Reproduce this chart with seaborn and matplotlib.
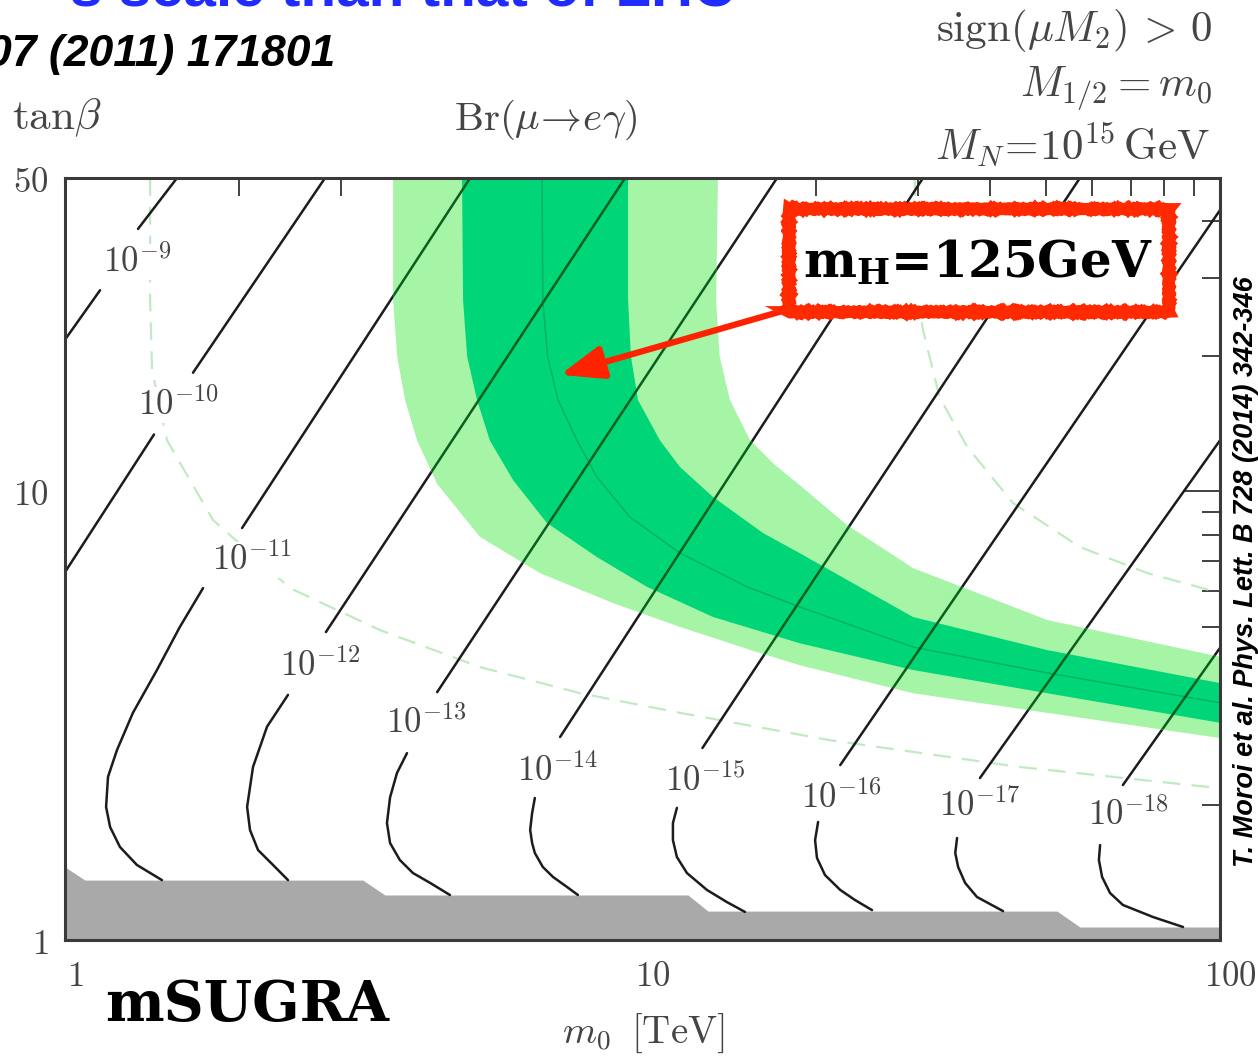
import matplotlib
matplotlib.use("Agg")
import matplotlib.pyplot as plt
import matplotlib.transforms as mtransforms
from matplotlib.patches import Rectangle
from matplotlib.ticker import FixedLocator, NullFormatter
import pandas as pd
import seaborn as sns

sns.set_theme(style="white")
plt.rcParams["font.family"] = ["DejaVu Sans"]
plt.rcParams["mathtext.fontset"] = "cm"

# ---------------------------------------------------------------------------
# Br(mu -> e gamma) contours in the (m0 [TeV], tan(beta)) plane
# ---------------------------------------------------------------------------
br_exponents = [-9, -10, -11, -12, -13, -14, -15, -16, -17, -18]
label_m0 = [1.332, 1.569, 2.108, 2.764, 4.22, 7.11, 12.83, 22.07, 38.4, 69.3]
label_tanb = [32.5, 15.6, 7.04, 4.10, 3.06, 2.39, 2.27, 2.08, 1.99, 1.90]

# straight part of each contour (above its label)
upper_m0 = [[1.338, 1.563], [1.666, 2.82], [2.026, 5.03], [2.83, 9.33],
            [4.41, 17.1], [7.20, 30.6], [12.7, 57.2], [22.0, 100.0],
            [38.4, 100.0], [67.9, 100.0]]
upper_tanb = [[38.5, 50.0], [18.4, 50.0], [8.29, 50.0], [4.86, 50.0],
              [3.57, 50.0], [2.836, 50.0], [2.68, 50.0], [2.455, 42.4],
              [2.297, 13.0], [2.216, 4.48]]

# bending part of each contour (below its label)
lower_m0 = [
    [1.150, 1.0],
    [1.426, 1.0],
    [1.734, 1.581, 1.443, 1.311, 1.230, 1.187, 1.178, 1.197, 1.245, 1.332, 1.472],
    [2.433, 2.238, 2.116, 2.067, 2.091, 2.159, 2.292, 2.433],
    [3.91, 3.757, 3.655, 3.61, 3.655, 3.80, 4.005, 4.29, 4.64],
    [6.51, 6.44, 6.39, 6.44, 6.51, 6.72, 7.0, 7.40, 7.73],
    [11.47, 11.29, 11.29, 11.47, 11.94, 12.93, 14.0, 15.05],
    [20.14, 19.9, 20.05, 20.7, 22.0, 23.33, 24.97],
    [35.05, 34.8, 35.2, 36.2, 37.95, 42.1],
    [62.0, 61.7, 62.5, 64.5, 67.9, 76.6, 86.3],
]
lower_tanb = [
    [28.1, 21.8],
    [13.4, 6.61],
    [6.09, 4.99, 4.00, 3.21, 2.65, 2.31, 1.98, 1.786, 1.612, 1.47, 1.36],
    [3.52, 2.99, 2.43, 1.98, 1.759, 1.587, 1.47, 1.36],
    [2.61, 2.357, 2.08, 1.823, 1.645, 1.508, 1.41, 1.34, 1.26],
    [2.073, 1.92, 1.759, 1.645, 1.563, 1.455, 1.382, 1.313, 1.26],
    [1.97, 1.823, 1.67, 1.531, 1.41, 1.293, 1.215, 1.155],
    [1.833, 1.67, 1.524, 1.396, 1.293, 1.228, 1.166],
    [1.688, 1.563, 1.455, 1.34, 1.247, 1.16],
    [1.628, 1.508, 1.382, 1.273, 1.197, 1.125, 1.069],
]

# m_h = 125 GeV band: outer (light) and inner (dark) edges, central value
light_lo_m0 = [3.70, 3.70, 3.76, 3.88, 4.07, 4.41, 5.23, 6.64, 8.89, 11.61, 15.4, 18.7, 29.4, 50.2, 100.0]
light_lo_tanb = [50.0, 26.7, 20.0, 16.0, 13.0, 10.4, 7.92, 6.58, 5.64, 4.99, 4.43, 4.10, 3.55, 3.21, 2.82]
light_hi_m0 = [13.51, 13.41, 13.6, 14.17, 15.36, 16.96, 18.7, 22.6, 29.4, 50.2, 100.0]
light_hi_tanb = [50.0, 26.7, 20.0, 16.0, 13.0, 11.46, 10.34, 8.42, 6.75, 5.17, 4.28]

dark_lo_m0 = [4.87, 4.89, 4.97, 5.17, 5.44, 5.97, 6.83, 8.34, 10.18, 13.25, 18.7, 29.4, 50.2, 100.0]
dark_lo_tanb = [50.0, 26.7, 20.0, 16.0, 13.0, 10.6, 8.51, 7.14, 6.13, 5.25, 4.59, 4.00, 3.55, 3.05]
dark_hi_m0 = [9.44, 9.44, 9.55, 9.82, 10.72, 11.61, 13.25, 16.17, 18.7, 29.4, 50.2, 100.0]
dark_hi_tanb = [50.0, 26.7, 20.0, 16.0, 13.0, 11.34, 9.72, 8.08, 7.29, 5.25, 4.43, 3.74]

center_m0 = [6.70, 6.72, 6.85, 7.14, 7.70, 8.34, 9.51, 11.61, 15.17, 18.7, 29.4, 50.2, 100.0]
center_tanb = [50.0, 26.7, 20.0, 16.0, 13.0, 10.77, 8.77, 7.29, 6.13, 5.53, 4.50, 3.94, 3.38]

# faint dashed companion curves
dash_a_m0 = [1.404, 1.404, 1.415, 1.502, 1.804, 2.453, 3.51, 5.23, 7.80, 11.61, 21.1, 45.1, 100.0]
dash_a_tanb = [50.0, 26.7, 18.66, 13.0, 8.64, 6.09, 4.91, 4.06, 3.55, 3.21, 2.79, 2.43, 2.18]
dash_b_m0 = [29.6, 30.0, 30.6, 32.7, 36.5, 43.8, 57.2, 74.8, 100.0]
dash_b_tanb = [50.0, 26.7, 22.9, 16.2, 12.57, 9.43, 7.52, 6.58, 5.94]

# excluded region at small tan(beta)
excl_m0 = [1.0, 1.083, 3.28, 3.58, 11.99, 12.98, 52.2, 57.2, 100.0]
excl_tanb = [1.455, 1.36, 1.36, 1.26, 1.26, 1.16, 1.16, 1.069, 1.069]

x_major = [1, 10, 100]
x_major_labels = ["1", "10", "100"]
x_minor = [2, 3, 4, 5, 6, 7, 8, 9, 20, 30, 40, 50, 60, 70, 80, 90]
y_major = [1, 10, 50]
y_major_labels = ["1", "10", "50"]
y_minor = [2, 3, 4, 5, 6, 7, 8, 9, 20, 30, 40]

# ---------------------------------------------------------------------------
LIGHT = "#a6f4a6"
DARK = "#00d678"
INK = "#454545"

W, H = 1258, 1058
fig = plt.figure(figsize=(W / 100, H / 100), dpi=100)
fig.patch.set_facecolor("white")


def fx(px):
    return px / W


def fy(py):
    return 1 - py / H


ax = fig.add_axes([fx(65), fy(940), 1155 / W, 762 / H])
ax.set_xscale("log")
ax.set_yscale("log")
ax.set_xlim(1, 100)
ax.set_ylim(1, 50)
ax.set_facecolor("white")

# long-form table of all contour pieces
rows = []
for i, e in enumerate(br_exponents):
    for seg, (ms, ts) in enumerate([(upper_m0[i], upper_tanb[i]),
                                    (lower_m0[i], lower_tanb[i])]):
        for k, (m, t) in enumerate(zip(ms, ts)):
            rows.append((f"{e}_{seg}", k, m, t))
contours = pd.DataFrame(rows, columns=["piece", "order", "m0", "tanb"])

dash_rows = [("a", m, t) for m, t in zip(dash_a_m0, dash_a_tanb)] + \
            [("b", m, t) for m, t in zip(dash_b_m0, dash_b_tanb)]
dashed = pd.DataFrame(dash_rows, columns=["piece", "m0", "tanb"])

# excluded region
ax.fill_between(excl_m0, 1, excl_tanb, color="#a9a9a9", lw=0, zorder=1)

# dashed curves
sns.lineplot(data=dashed, x="m0", y="tanb", units="piece", estimator=None,
             sort=False, color="#c2eac2", lw=1.6, linestyle=(0, (8, 5)),
             legend=False, ax=ax, zorder=1.5)

# Br contours
line_kw = dict(solid_joinstyle="round", solid_capstyle="round")
sns.lineplot(data=contours, x="m0", y="tanb", units="piece", estimator=None,
             sort=False, color="#1c1c1c", lw=1.8, legend=False, ax=ax,
             zorder=2, **line_kw)

# Higgs mass band
light_patch = ax.fill(light_lo_m0 + light_hi_m0[::-1],
                      light_lo_tanb + light_hi_tanb[::-1],
                      color=LIGHT, lw=0, zorder=3)[0]
ax.fill(dark_lo_m0 + dark_hi_m0[::-1], dark_lo_tanb + dark_hi_tanb[::-1],
        color=DARK, lw=0, zorder=3.1)
sns.lineplot(x=center_m0, y=center_tanb, sort=False, estimator=None,
             color="#00b262", lw=1.1, ax=ax, zorder=3.2)

# contours seen through the band
n_before = len(ax.lines)
sns.lineplot(data=contours, x="m0", y="tanb", units="piece", estimator=None,
             sort=False, color="#0c5e1e", lw=1.8, legend=False, ax=ax,
             zorder=3.5, **line_kw)
for ln in ax.lines[n_before:]:
    ln.set_clip_path(light_patch)

# contour labels
for m, t, e in zip(label_m0, label_tanb, br_exponents):
    ax.text(m, t, rf"$10^{{{e}}}$", ha="center", va="center", fontsize=25,
            color=INK, zorder=4,
            bbox=dict(boxstyle="square,pad=0.02", fc="white", ec="none"))

# axes cosmetics
ax.set_xlabel("")
ax.set_ylabel("")
ax.xaxis.set_major_locator(FixedLocator(x_major))
ax.xaxis.set_minor_locator(FixedLocator(x_minor))
ax.yaxis.set_major_locator(FixedLocator(y_major))
ax.yaxis.set_minor_locator(FixedLocator(y_minor))
ax.set_xticklabels([rf"${s}$" for s in x_major_labels])
ax.set_yticklabels([rf"${s}$" for s in y_major_labels])
ax.xaxis.set_minor_formatter(NullFormatter())
ax.yaxis.set_minor_formatter(NullFormatter())
ax.tick_params(which="both", direction="in", top=True, right=True,
               color="#333333", width=1.3, labelsize=25, labelcolor=INK)
ax.tick_params(which="major", length=26)
ax.tick_params(which="minor", length=13)
ax.tick_params(axis="x", which="major", pad=14)
ax.tick_params(axis="y", which="major", pad=12)
shift = mtransforms.ScaledTranslation(10 / 100, 0, fig.dpi_scale_trans)
for lab in ax.get_xticklabels():
    lab.set_transform(lab.get_transform() + shift)
for sp in ax.spines.values():
    sp.set_color("#3a3a3a")
    sp.set_linewidth(2.2)
    sp.set_zorder(6)
ax.grid(False)

# axis titles and model parameters
fig.text(fx(12), fy(118), r"$\tan\!\beta$", ha="left", va="center",
         fontsize=31, color=INK)
fig.text(fx(546), fy(120), r"$\mathrm{Br}(\mu\!\rightarrow\! e\gamma)$",
         ha="center", va="center", fontsize=29.5, color=INK)
fig.text(fx(643), fy(1033), r"$m_0\;\;[\mathrm{TeV}]$", ha="center",
         va="center", fontsize=28, color=INK)
fig.text(fx(1212), fy(30), r"$\mathrm{sign}(\mu M_2)\,>\,0$", ha="right",
         va="center", fontsize=31, color=INK)
fig.text(fx(1212), fy(88), r"$M_{1/2} = m_0$", ha="right", va="center",
         fontsize=31, color=INK)
fig.text(fx(1210), fy(145), r"$M_N\!=\!10^{15}\,\mathrm{GeV}$", ha="right",
         va="center", fontsize=31, color=INK)

fig.text(fx(105), fy(1005), "mSUGRA", ha="left", va="center", fontsize=40,
         family="DejaVu Serif", weight="bold", color="black")

# references
fig.text(fx(735), fy(6), "s scale than that of LHC", ha="right",
         va="baseline", fontsize=42, family="Liberation Sans", weight="bold",
         color="#1f2bff")
fig.text(fx(335), fy(66), "Phys. Rev. Lett. 107 (2011) 171801", ha="right",
         va="baseline", fontsize=32, family="Liberation Sans", weight="bold",
         style="italic", color="black")
fig.text(fx(1246), fy(572), "T. Moroi et al. Phys. Lett. B 728 (2014) 342-346",
         ha="center", va="center", rotation=90, fontsize=19.5,
         family="Liberation Sans", weight="bold", style="italic",
         color="black")

# highlighted m_h annotation
box = Rectangle((fx(789), fy(312)), fx(1169) - fx(789), fy(209) - fy(312),
                transform=fig.transFigure, fc="white", ec="#ff2a00", lw=8.5,
                zorder=10)
box.set_sketch_params(scale=0.6, length=3, randomness=2)
fig.patches.append(box)
fig.text(fx(978), fy(263), r"$\mathbf{m_H}$=125GeV", ha="center",
         va="center", fontsize=36, family="DejaVu Serif", weight="bold",
         math_fontfamily="dejavuserif", color="black", zorder=11)
ax.annotate("", xy=(7.2, 18.2), xycoords="data",
            xytext=(fx(786), fy(310)), textcoords="figure fraction",
            arrowprops=dict(arrowstyle="-|>,head_length=1.3,head_width=0.5",
                            mutation_scale=20, color="#ff2200", lw=4.5,
                            shrinkA=0, shrinkB=0),
            zorder=9, annotation_clip=False)

fig.savefig("out.png", dpi=100)
